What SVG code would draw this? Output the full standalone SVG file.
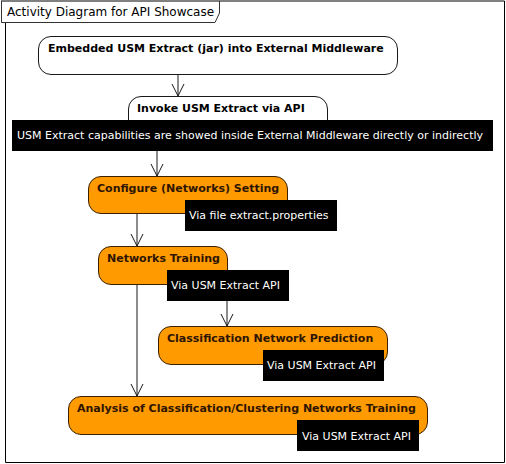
<svg xmlns="http://www.w3.org/2000/svg" width="506" height="464" viewBox="0 0 506 464">
<style>
  text { font-family: "DejaVu Sans", "Liberation Sans", sans-serif; }
  .title { font-size: 12px; fill: #000; }
  .lbl { font-size: 11px; font-weight: bold; fill: #000; }
  .lblo { font-size: 11px; font-weight: bold; fill: #2e1500; }
  .note { fill: #000; stroke: #000; stroke-width: 1; }
  .notetxt { font-size: 11px; fill: #fff; }
  .wnode { fill: #fff; stroke: #181818; stroke-width: 1; }
  .onode { fill: #FF9A00; stroke: #3a2000; stroke-width: 1; }
  .conn { fill: none; stroke: #181818; stroke-width: 1; }
</style>
<defs>
  <marker id="arr" markerUnits="userSpaceOnUse" markerWidth="14" markerHeight="14" refX="0" refY="0" orient="auto" overflow="visible">
    <path d="M-12,-6 L0,0 L-12,6" fill="none" stroke="#181818" stroke-width="1"/>
  </marker>
</defs>
<rect x="0" y="0" width="506" height="464" fill="#fff"/>
<g id="frame">
  <path d="M5.5,22.5 L5.5,462.5 L504.5,462.5 L504.5,1 L1,1" fill="none" stroke="#000" stroke-width="1"/>
  <path d="M1.5,1 L1.5,22.5 L215,22.5 L219.5,13 L219.5,1" fill="none" stroke="#333" stroke-width="1"/>
  <text class="title" x="7" y="16">Activity Diagram for API Showcase</text>
</g>
<g id="connectors">
  <path class="conn" d="M178,74 L178,96" marker-end="url(#arr)"/>
  <path class="conn" d="M157,150 L157,176" marker-end="url(#arr)"/>
  <path class="conn" d="M137,213 L137,246" marker-end="url(#arr)"/>
  <path class="conn" d="M137,284 L137,396" marker-end="url(#arr)"/>
  <path class="conn" d="M227,290 L227,326" marker-end="url(#arr)"/>
</g>
<g id="node1">
  <rect class="wnode" x="38.5" y="36.5" width="359" height="38" rx="12.5" ry="12.5"/>
  <text class="lbl" x="48" y="52">Embedded USM Extract (jar) into External Middleware</text>
</g>
<g id="node2">
  <rect class="wnode" x="128.5" y="96.5" width="199" height="38" rx="12.5" ry="12.5"/>
  <text class="lbl" x="137" y="112">Invoke USM Extract via API</text>
  <rect class="note" x="12.5" y="120.5" width="480" height="30"/>
  <text class="notetxt" x="17" y="139">USM Extract capabilities are showed inside External Middleware directly or indirectly</text>
</g>
<g id="node3">
  <rect class="onode" x="88.5" y="176.5" width="199" height="37" rx="12.5" ry="12.5"/>
  <text class="lblo" x="97" y="192">Configure (Networks) Setting</text>
  <rect class="note" x="185.5" y="200.5" width="151" height="30"/>
  <text class="notetxt" x="189" y="219">Via file extract.properties</text>
</g>
<g id="node4">
  <rect class="onode" x="98.5" y="246.5" width="129" height="38" rx="12.5" ry="12.5"/>
  <text class="lblo" x="107" y="262">Networks Training</text>
  <rect class="note" x="167.5" y="270.5" width="121" height="30"/>
  <text class="notetxt" x="171" y="289">Via USM Extract API</text>
</g>
<g id="node5">
  <rect class="onode" x="158.5" y="326.5" width="229" height="38" rx="12.5" ry="12.5"/>
  <text class="lblo" x="167" y="342">Classification Network Prediction</text>
  <rect class="note" x="263.5" y="350.5" width="120" height="30"/>
  <text class="notetxt" x="267" y="369">Via USM Extract API</text>
</g>
<g id="node6">
  <rect class="onode" x="68.5" y="396.5" width="359" height="38" rx="12.5" ry="12.5"/>
  <text class="lblo" x="77" y="412">Analysis of Classification/Clustering Networks Training</text>
  <rect class="note" x="297.5" y="420.5" width="121" height="30"/>
  <text class="notetxt" x="302" y="440">Via USM Extract API</text>
</g>
</svg>
